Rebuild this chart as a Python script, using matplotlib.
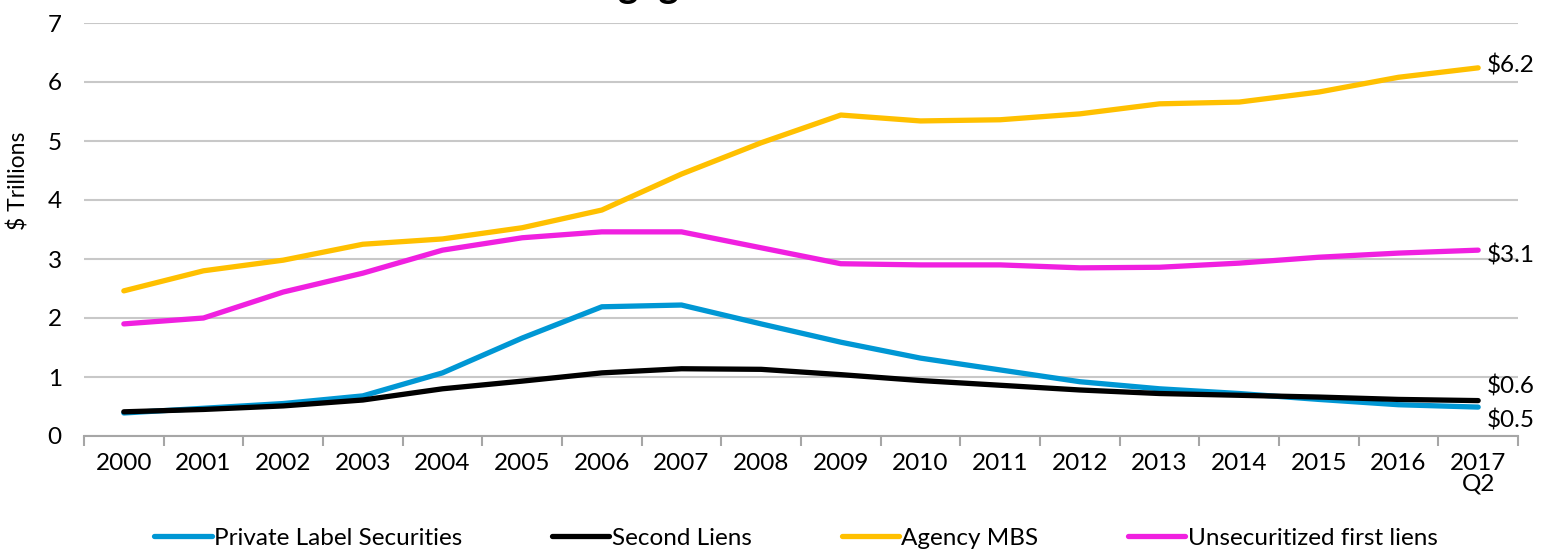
import matplotlib
matplotlib.use("Agg")
import matplotlib.pyplot as plt
import numpy as np

plt.rcParams['font.family'] = ['Lato', 'DejaVu Sans']

#%% data ($ trillions)
years = ['2000', '2001', '2002', '2003', '2004', '2005', '2006', '2007', '2008',
         '2009', '2010', '2011', '2012', '2013', '2014', '2015', '2016', '2017\nQ2']

private_label = [0.39, 0.47, 0.55, 0.68, 1.07, 1.66, 2.19, 2.22, 1.90,
                 1.59, 1.32, 1.12, 0.92, 0.80, 0.72, 0.62, 0.53, 0.49]
second_liens = [0.41, 0.45, 0.51, 0.61, 0.80, 0.93, 1.07, 1.14, 1.13,
                1.04, 0.94, 0.86, 0.78, 0.72, 0.69, 0.66, 0.62, 0.60]
agency_mbs = [2.46, 2.80, 2.98, 3.25, 3.34, 3.53, 3.83, 4.44, 4.97,
              5.44, 5.34, 5.36, 5.46, 5.63, 5.66, 5.83, 6.08, 6.24]
unsecuritized = [1.90, 2.00, 2.44, 2.76, 3.15, 3.36, 3.46, 3.46, 3.19,
                 2.92, 2.90, 2.90, 2.85, 2.86, 2.93, 3.03, 3.10, 3.15]

series = [
    ("Private Label Securities", private_label, '#0097D4'),
    ("Second Liens", second_liens, '#000000'),
    ("Agency MBS", agency_mbs, '#FFC000'),
    ("Unsecuritized first liens", unsecuritized, '#F020E0'),
]

# end labels: (series values, text, y offset in points)
end_labels = [(agency_mbs, '$6.2', 2), (unsecuritized, '$3.1', -4),
              (second_liens, '$0.6', 10), (private_label, '$0.5', -10)]

FS = 17.5

#%% figure
fig = plt.figure(figsize=(15.51, 5.5), dpi=100, facecolor='white')
ax = fig.add_axes([84 / 1551, 1 - 436 / 550, (1518 - 84) / 1551, (436 - 23) / 550])

x = np.arange(len(years))
for name, vals, col in series:
    ax.plot(x, vals, color=col, lw=3.8, solid_capstyle='round', label=name, zorder=3)

for vals, txt, dy in end_labels:
    ax.annotate(txt, (x[-1], vals[-1]), xytext=(6, dy), textcoords='offset points',
                ha='left', va='center', fontsize=FS)

# axes styling
ax.set_xlim(-0.5, len(years) - 0.5)
ax.set_ylim(0, 7)
ax.set_yticks(range(0, 8))
ax.grid(axis='y', color='#c8c8c8', lw=1.5, zorder=0)
ax.set_axisbelow(True)
for s in ['top', 'right', 'left']:
    ax.spines[s].set_visible(False)
ax.spines['bottom'].set_color('#a6a6a6')
ax.spines['bottom'].set_linewidth(1.5)

ax.set_xticks(x)
ax.set_xticklabels(years, fontsize=FS, linespacing=1.0)
ax.set_xticks(np.arange(-0.5, len(years)), minor=True)
ax.tick_params(axis='x', which='major', length=0, pad=12)
ax.tick_params(axis='x', which='minor', length=7, width=1.5, color='#a6a6a6')
ax.tick_params(axis='y', length=0, labelsize=FS, pad=16)

fig.text(19 / 1551, 1 - 181 / 550, '$ Trillions', rotation=90, ha='center', va='center', fontsize=16.5)

# title cut off by the top edge of the picture, as in the reference
fig.text(530 / 1551, 1 + 1.5 / 550, 'Mortgage Debt', fontsize=28, fontweight='bold',
         ha='left', va='baseline')

fig.legend(loc='center', bbox_to_anchor=(796 / 1551, 1 - 538 / 550), ncol=4, frameon=False,
           fontsize=FS, handlelength=2.35, handletextpad=0.1, columnspacing=3.7)

fig.savefig('out.png', dpi=100, facecolor='white')
